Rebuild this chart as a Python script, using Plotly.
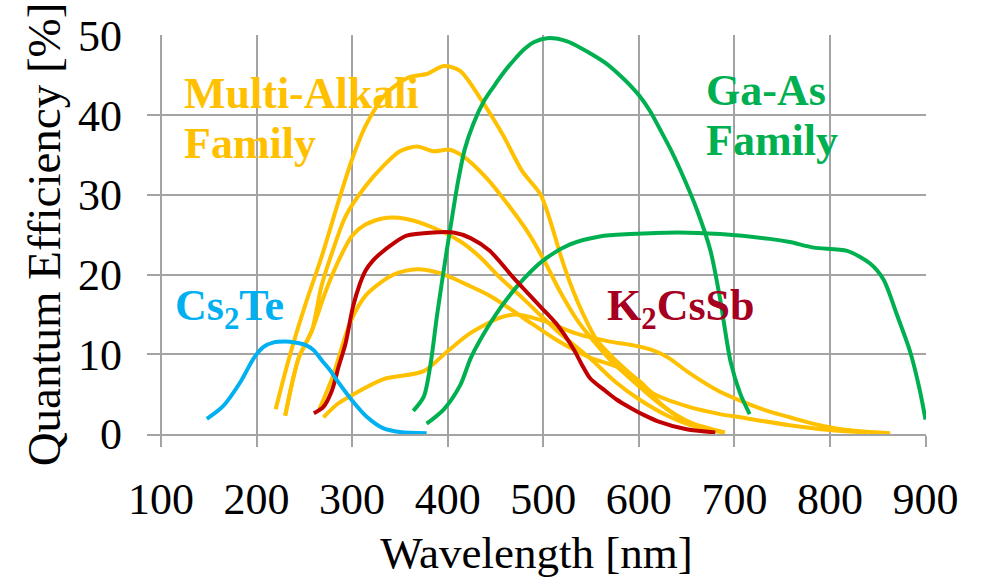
import plotly.graph_objects as go

# Spectral quantum efficiency of photocathode families (wavelength in nm, QE in %)

cs2te_nm = [148, 165, 183, 197, 207, 218, 230, 240, 251, 260, 268, 277, 285, 300, 315, 333, 350, 378]
cs2te_qe = [1.9, 3.5, 6.5, 9.5, 10.9, 11.5, 11.6, 11.5, 11.2, 10.5, 9.3, 8.0, 6.6, 4.2, 2.2, 0.7, 0.25, 0.1]

k2cssb_nm = [260, 270, 279, 286, 293, 301, 308, 314, 322, 329, 343, 357, 385, 406, 424, 444, 469,
             479, 497, 514, 532, 540, 549, 563, 577, 591, 605, 620, 650, 680]
k2cssb_qe = [2.6, 3.4, 5.5, 8.5, 11.3, 16.0, 18.8, 20.5, 21.8, 22.6, 23.9, 24.9, 25.3, 25.3, 24.6,
             23.0, 19.6, 18.3, 16.0, 13.8, 10.6, 8.8, 7.0, 5.6, 4.3, 3.3, 2.4, 1.6, 0.6, 0.2]

gaas_a_nm = [364, 375, 382, 389, 399, 405, 411, 418, 427, 438, 448, 460, 469, 480, 490, 504, 525,
             552, 565, 577, 590, 601, 612, 622, 633, 644, 661, 675, 685, 696, 706, 716]
gaas_a_qe = [2.9, 4.7, 8.7, 15.0, 23.0, 27.5, 31.8, 35.8, 39.0, 41.8, 43.6, 45.6, 46.9, 48.3, 49.2,
             49.7, 49.3, 47.6, 46.6, 45.4, 43.9, 42.4, 40.5, 38.3, 35.8, 33.0, 28.1, 23.0, 17.0, 9.1,
             5.1, 2.5]

gaas_b_nm = [378, 396, 413, 424, 434, 455, 476, 500, 528, 559, 591, 641, 685, 737, 758, 783, 818,
             842, 856, 870, 884, 894, 900]
gaas_b_qe = [1.3, 3.1, 6.1, 9.5, 11.8, 15.8, 19.0, 21.8, 23.8, 24.8, 25.1, 25.3, 25.1, 24.5, 24.1,
             23.4, 23.0, 21.4, 19.4, 15.0, 10.3, 5.5, 1.8]

ma1_nm = [220, 234, 251, 268, 286, 300, 315, 336, 360, 378, 396, 413, 437, 458, 478, 497, 507, 518,
          528, 542, 556, 577, 601, 623, 650, 688]
ma1_qe = [3.1, 9.5, 16.2, 22.2, 29.3, 34.5, 38.9, 42.8, 44.8, 45.2, 46.2, 45.6, 41.6, 37.5, 33.0,
          30.1, 26.9, 22.5, 19.0, 15.0, 11.8, 9.1, 6.5, 3.8, 1.5, 0.2]

ma2_nm = [230, 244, 258, 268, 282, 293, 314, 333, 350, 368, 385, 402, 416, 441, 465, 483, 500, 518,
          535, 549, 570, 601, 625, 655, 690]
ma2_qe = [2.3, 9.5, 13.0, 18.6, 23.8, 27.3, 31.1, 33.7, 35.5, 36.1, 35.5, 35.7, 34.9, 32.1, 28.5,
          25.5, 22.0, 17.8, 14.4, 12.2, 9.3, 5.9, 3.5, 1.4, 0.2]

ma3_nm = [230, 244, 258, 272, 286, 300, 314, 333, 357, 385, 413, 434, 455, 479, 514, 549, 575, 601,
          630, 660, 690]
ma3_qe = [2.3, 9.5, 13.0, 17.8, 21.8, 24.9, 26.3, 27.1, 27.0, 25.9, 24.2, 22.2, 19.6, 17.0, 13.0,
          9.5, 6.6, 4.3, 2.3, 0.9, 0.2]

ma4_nm = [266, 280, 298, 315, 343, 368, 392, 423, 445, 479, 514, 549, 580, 601, 615, 650, 685, 706,
          758, 800, 838]
ma4_qe = [3.2, 7.3, 14.0, 17.5, 20.0, 20.7, 20.2, 18.6, 17.3, 14.6, 11.8, 9.6, 8.3, 6.6, 5.1, 3.5,
          2.5, 2.1, 1.1, 0.5, 0.2]

ma5_nm = [270, 285, 303, 333, 375, 399, 423, 455, 472, 500, 535, 570, 591, 615, 632, 650, 685, 706,
          737, 758, 782, 818, 863]
ma5_qe = [2.1, 3.8, 5.1, 6.9, 7.9, 10.3, 12.6, 14.6, 15.0, 14.2, 12.6, 11.6, 11.2, 10.5, 9.5, 7.9,
          5.3, 4.2, 2.8, 2.1, 1.3, 0.5, 0.1]

x_ticks = [100, 200, 300, 400, 500, 600, 700, 800, 900]
y_ticks = [0, 10, 20, 30, 40, 50]

YELLOW = "#FFC000"
GREEN = "#00B050"
RED = "#C00000"
BLUE = "#00B0F0"
GRID = "#A3A3A3"
SERIF = "Liberation Serif"

series = [
    (ma1_nm, ma1_qe, YELLOW),
    (ma2_nm, ma2_qe, YELLOW),
    (ma3_nm, ma3_qe, YELLOW),
    (ma4_nm, ma4_qe, YELLOW),
    (ma5_nm, ma5_qe, YELLOW),
    (gaas_a_nm, gaas_a_qe, GREEN),
    (gaas_b_nm, gaas_b_qe, GREEN),
    (k2cssb_nm, k2cssb_qe, RED),
    (cs2te_nm, cs2te_qe, BLUE),
]

fig = go.Figure()
for xs, ys, col in series:
    fig.add_trace(go.Scatter(
        x=xs, y=ys, mode="lines",
        line=dict(color=col, width=4, shape="spline", smoothing=0.8),
        showlegend=False, hoverinfo="skip",
    ))

labels = [
    ("<b>Multi-Alkali</b>", 122.3, 42.8, YELLOW),
    ("<b>Family</b>", 122.3, 36.5, YELLOW),
    ("<b>Ga-As</b>", 668.3, 43.1, GREEN),
    ("<b>Family</b>", 668.3, 36.8, GREEN),
    ("<b>Cs<sub>2</sub>Te</b>", 112.5, 15.7, BLUE),
    ("<b>K<sub>2</sub>CsSb</b>", 564.7, 15.7, "#A50021"),
]
for txt, lx, ly, col in labels:
    fig.add_annotation(
        x=lx, y=ly, xref="x", yref="y", text=txt, showarrow=False,
        xanchor="left", yanchor="middle",
        font=dict(family=SERIF, size=44, color=col),
    )

fig.update_layout(
    width=984, height=581,
    margin=dict(l=147, r=58, t=27, b=135),
    paper_bgcolor="white", plot_bgcolor="white",
    font=dict(family=SERIF, color="black"),
)
fig.update_xaxes(
    range=[85.4, 900.5], tickmode="array", tickvals=x_ticks,
    showgrid=True, gridcolor=GRID, gridwidth=1.5,
    showline=True, linecolor=GRID, linewidth=1.5,
    ticks="outside", ticklen=11, tickwidth=1.5, tickcolor=GRID,
    tickfont=dict(family=SERIF, size=44, color="black"),
    ticklabelstandoff=14,
    zeroline=False,
    title=dict(text="Wavelength [nm]", font=dict(family=SERIF, size=45, color="black"), standoff=14),
)
fig.update_yaxes(
    range=[0, 50.1], tickmode="array", tickvals=y_ticks,
    showgrid=True, gridcolor=GRID, gridwidth=1.5,
    showline=False, zeroline=False, ticks="",
    tickfont=dict(family=SERIF, size=44, color="black"),
    ticklabelstandoff=24,
    title=dict(text="Quantum Efficiency [%]", font=dict(family=SERIF, size=47, color="black"), standoff=2),
)

fig.write_html("out.html")
